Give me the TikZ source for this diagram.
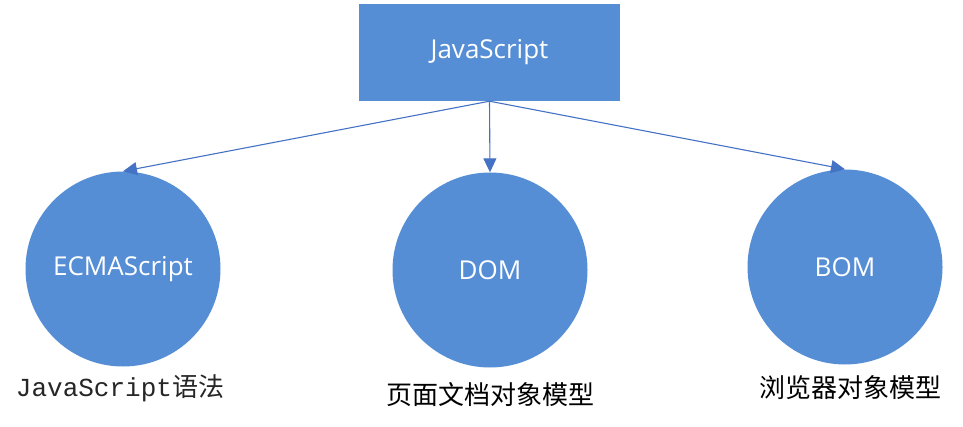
\documentclass[tikz,border=0pt]{standalone}
\usepackage{fontspec}
\setmainfont{Open Sans}
\newfontfamily\cjk{Noto Sans CJK SC}
\newfontfamily\monof{Liberation Mono}
\usetikzlibrary{arrows.meta}
\definecolor{boxblue}{RGB}{85,142,213}
\definecolor{lineblue}{RGB}{68,114,196}
\tikzset{
  blueshape/.style={fill=boxblue, draw=none, text=white, font=\fontsize{26}{30}\selectfont, inner sep=0pt},
  bubble/.style={blueshape, circle, minimum size=195pt},
  conn/.style={draw=lineblue, line width=1.1pt, -{Triangle[length=14pt,width=13pt]}},
  caption/.style={text=black, inner sep=0pt, font=\fontsize{26}{30}\selectfont\cjk}
}
\begin{document}
\begin{tikzpicture}[x=1pt,y=-1pt]
\useasboundingbox (0,0) rectangle (963,427);
\fill[white] (0,0) rectangle (963,427);
\node[blueshape, rectangle, minimum width=261pt, minimum height=97pt] (js) at (489.5,52.5) {JavaScript};
\node[bubble] (ecma) at (123,269) {ECMAScript};
\node[bubble] (dom) at (490,270) {DOM};
\node[bubble] (bom) at (845,267) {BOM};
\draw[conn] (js.south) -- (ecma.north);
\draw[conn] (js.south) -- (dom.north);
\draw[conn] (js.south) -- (bom.north);
\node[caption, text=black!85] (c1) at (120,388) {{\monof\fontsize{26}{30}\selectfont JavaScript}语法};
\node[caption] (c2) at (490,395) {页面文档对象模型};
\node[caption] (c3) at (850,388) {浏览器对象模型};
\end{tikzpicture}
\end{document}
